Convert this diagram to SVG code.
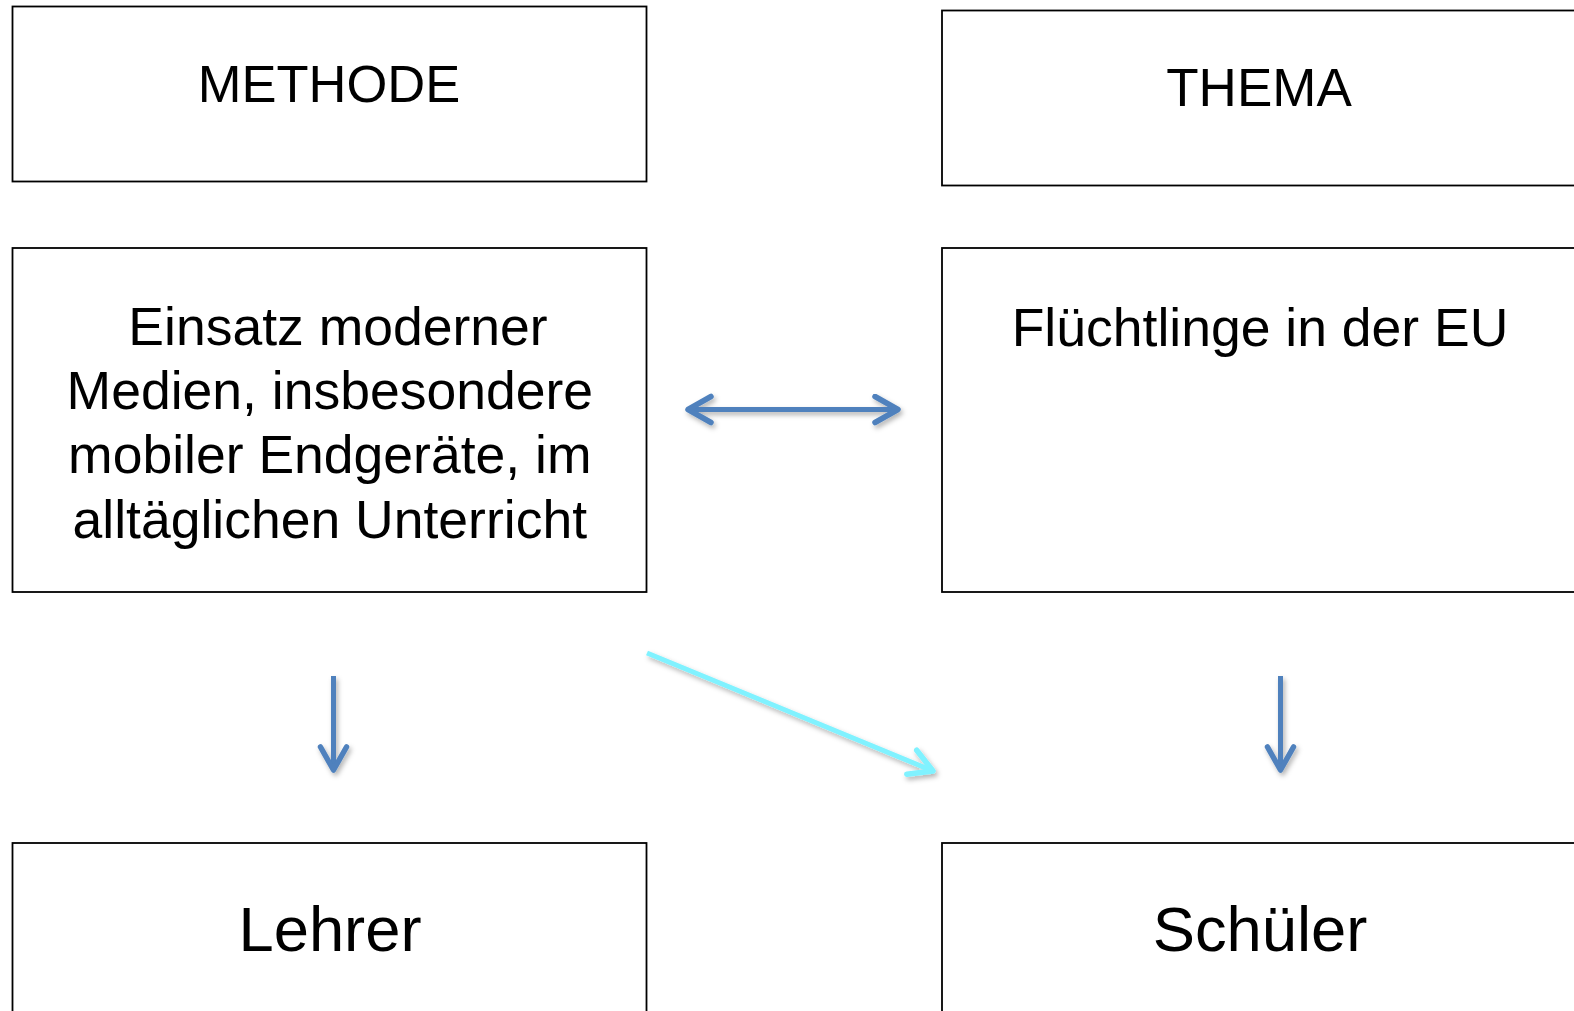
<svg xmlns="http://www.w3.org/2000/svg" width="1574" height="1011" viewBox="0 0 1574 1011">
  <style>
    .box { fill: #ffffff; stroke: #000000; stroke-width: 1.8; }
    .t { font-family: "Liberation Sans", Arial, sans-serif; fill: #000000; text-anchor: middle; }
    .blue { stroke: #4F81BD; stroke-width: 5; fill: none; }
    .cyan { stroke: #80F2FF; stroke-width: 5; fill: none; }
  </style>
  <defs>
    <filter id="sh" x="-20%" y="-20%" width="140%" height="160%">
      <feDropShadow dx="2" dy="3" stdDeviation="2.5" flood-color="#000000" flood-opacity="0.3"/>
    </filter>
    <marker id="ab" markerUnits="userSpaceOnUse" markerWidth="34" markerHeight="34" refX="26" refY="16" orient="auto-start-reverse" viewBox="0 0 34 34">
      <path d="M3,3 L26,16 L3,29" fill="none" stroke="#4F81BD" stroke-width="5.5" stroke-linecap="round" stroke-linejoin="round"/>
    </marker>
    <marker id="ac" markerUnits="userSpaceOnUse" markerWidth="34" markerHeight="34" refX="26" refY="16" orient="auto" viewBox="0 0 34 34">
      <path d="M3,3 L26,16 L3,29" fill="none" stroke="#80F2FF" stroke-width="5.5" stroke-linecap="round" stroke-linejoin="round"/>
    </marker>
  </defs>
  <rect width="1574" height="1011" fill="#ffffff"/>

  <g id="methode">
    <rect class="box" x="12.5" y="6.5" width="634" height="175"/>
    <text class="t" x="329" y="102" font-size="52.5">METHODE</text>
  </g>
  <g id="thema">
    <rect class="box" x="942" y="10.5" width="640" height="175"/>
    <text class="t" x="1259" y="106" font-size="53">THEMA</text>
  </g>
  <g id="einsatz">
    <rect class="box" x="12.5" y="248" width="634" height="344"/>
    <text class="t" x="338" y="345" font-size="53.5">Einsatz moderner</text>
    <text class="t" x="329.8" y="409.2" font-size="53.5">Medien, insbesondere</text>
    <text class="t" x="329.8" y="473.4" font-size="53.5">mobiler Endgeräte, im</text>
    <text class="t" x="329.8" y="537.6" font-size="53.5">alltäglichen Unterricht</text>
  </g>
  <g id="fluechtlinge">
    <rect class="box" x="942" y="248" width="640" height="344"/>
    <text class="t" x="1260" y="345.5" font-size="53.5">Flüchtlinge in der EU</text>
  </g>
  <g id="lehrer">
    <rect class="box" x="12.5" y="843" width="634" height="200"/>
    <text class="t" x="330" y="950.6" font-size="63.3">Lehrer</text>
  </g>
  <g id="schueler">
    <rect class="box" x="942" y="843" width="640" height="200"/>
    <text class="t" x="1260" y="950.6" font-size="63.3">Schüler</text>
  </g>

  <g id="connectors" filter="url(#sh)">
    <line class="blue" x1="688" y1="409.5" x2="898" y2="409.5" marker-start="url(#ab)" marker-end="url(#ab)"/>
    <line class="blue" x1="333.5" y1="676" x2="333.5" y2="770" marker-end="url(#ab)"/>
    <line class="blue" x1="1280.5" y1="676" x2="1280.5" y2="770" marker-end="url(#ab)"/>
    <line class="cyan" x1="647" y1="653" x2="933" y2="771" marker-end="url(#ac)"/>
  </g>
</svg>
